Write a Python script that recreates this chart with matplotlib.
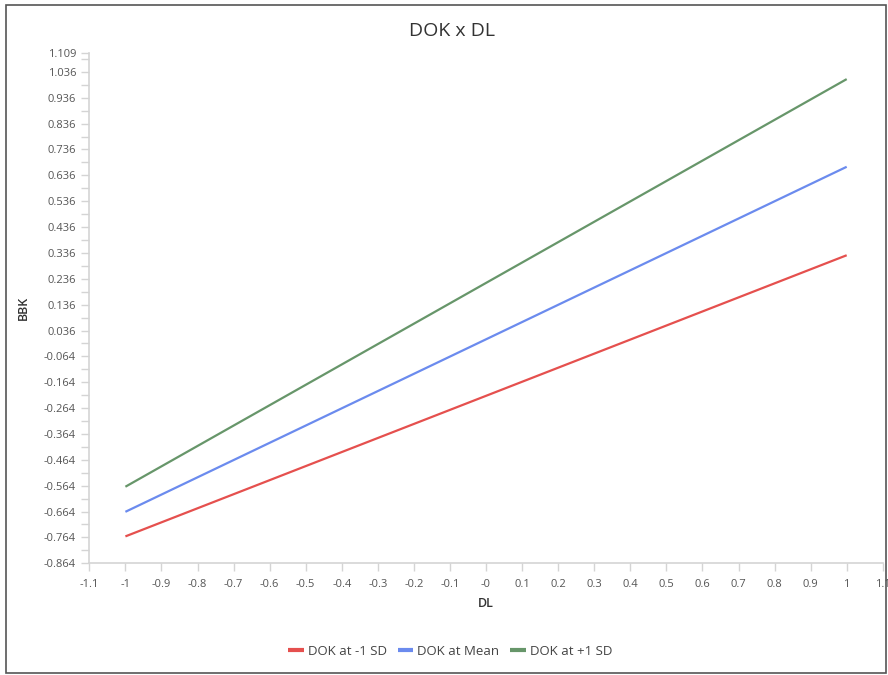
import numpy as np
import matplotlib
matplotlib.use("Agg")
import matplotlib.pyplot as plt
from matplotlib.patches import Rectangle
from matplotlib.ticker import FixedLocator, FuncFormatter

plt.rcParams['font.family'] = ['Open Sans', 'DejaVu Sans']

############################################
# DATA
############################################
x_vals = [-1, 1]
series_names = ["DOK at -1 SD", "DOK at Mean", "DOK at +1 SD"]
low_sd = [-0.760, 0.327]
mean_vals = [-0.665, 0.669]
high_sd = [-0.568, 1.008]
colors = ["#E5504E", "#6B8BEE", "#67966A"]

y_major = [-0.864, -0.764, -0.664, -0.564, -0.464, -0.364, -0.264, -0.164, -0.064,
           0.036, 0.136, 0.236, 0.336, 0.436, 0.536, 0.636, 0.736, 0.836, 0.936,
           1.036, 1.109]
x_major = [-1.1, -1.0, -0.9, -0.8, -0.7, -0.6, -0.5, -0.4, -0.3, -0.2, -0.1, 0.0,
           0.1, 0.2, 0.3, 0.4, 0.5, 0.6, 0.7, 0.8, 0.9, 1.0, 1.1]
x_labels = ["-1.1", "-1", "-0.9", "-0.8", "-0.7", "-0.6", "-0.5", "-0.4", "-0.3", "-0.2",
            "-0.1", "-0", "0.1", "0.2", "0.3", "0.4", "0.5", "0.6", "0.7", "0.8", "0.9",
            "1", "1.1"]

############################################
# FIGURE
############################################
fig = plt.figure(figsize=(8.88, 6.75), dpi=100)
ax = fig.add_axes([0.1006, 0.1655, 0.8935, 0.756])

for ys, name, c in zip([low_sd, mean_vals, high_sd], series_names, colors):
    ax.plot(x_vals, ys, color=c, lw=1.6, label=name, solid_capstyle='butt')

ax.set_xlim(-1.1, 1.1)
ax.set_ylim(-0.864, 1.109)

ax.xaxis.set_major_locator(FixedLocator(x_major))
ax.set_xticklabels(x_labels)
ax.yaxis.set_major_locator(FixedLocator(y_major))
ax.yaxis.set_major_formatter(FuncFormatter(lambda v, p: f"{v:.3f}"))
ax.yaxis.set_minor_locator(FixedLocator([v + 0.05 for v in y_major[:-1]]))

grey = "#d4d4d4"
for s in ["top", "right"]:
    ax.spines[s].set_visible(False)
for s in ["left", "bottom"]:
    ax.spines[s].set_color(grey)
    ax.spines[s].set_linewidth(1.2)

ax.tick_params(axis='both', which='major', length=6, width=1, color=grey,
               labelcolor="#555555", labelsize=8)
ax.tick_params(axis='y', which='minor', length=6, width=1, color=grey)
ax.tick_params(axis='x', pad=5)

ax.set_xlabel("DL", fontsize=9, color="#333333", fontweight='semibold', labelpad=5)
ax.set_ylabel("BBK", fontsize=9, color="#333333", fontweight='semibold', labelpad=10)
fig.suptitle("DOK x DL", x=0.509, y=0.968, fontsize=14, color="#333333")

fig.legend(loc='center', bbox_to_anchor=(0.507, 0.035), ncol=3, frameon=False,
           fontsize=9.5, handlelength=1.2, handletextpad=0.3, columnspacing=0.8,
           labelcolor="#444444")
for h in fig.legends[0].get_lines():
    h.set_linewidth(3)

# outer border
fig.patches.append(Rectangle((0.0068, 0.003), 0.991, 0.99, transform=fig.transFigure,
                             fill=False, edgecolor="#555555", lw=1.2))

fig.savefig("out.png", dpi=100)
